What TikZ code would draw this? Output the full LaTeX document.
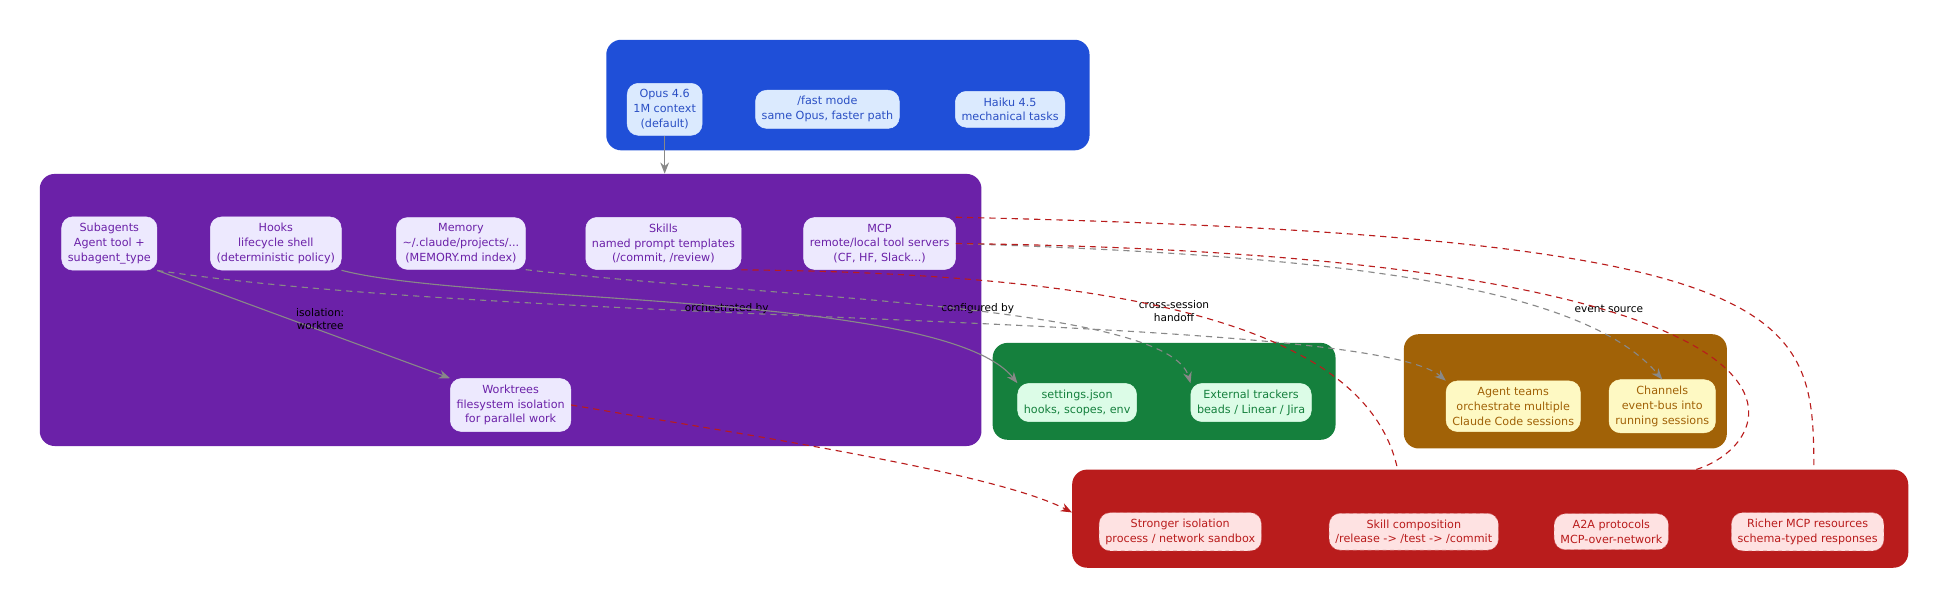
\documentclass[tikz,border=0pt]{standalone}
\usepackage{fontspec}
\setmainfont{DejaVu Sans}
\usetikzlibrary{arrows.meta}
\definecolor{bluec}{HTML}{1F4FD8}
\definecolor{bluef}{HTML}{DBEAFE}
\definecolor{bluet}{HTML}{2A4FC4}
\definecolor{purc}{HTML}{6B21A8}
\definecolor{purf}{HTML}{EDE9FE}
\definecolor{grnc}{HTML}{15803D}
\definecolor{grnf}{HTML}{DCFCE7}
\definecolor{brnc}{HTML}{A16207}
\definecolor{brnf}{HTML}{FEF9C3}
\definecolor{redc}{HTML}{B91C1C}
\definecolor{redf}{HTML}{FEE2E2}
\definecolor{edgec}{HTML}{888888}
\tikzset{cluster/.style={draw=none, rounded corners=12pt, inner sep=0pt},
         box/.style={rounded corners=9pt, align=center, inner sep=5pt,
                     font=\fontsize{9}{12}\selectfont},
         mbox/.style={box, fill=bluef, draw=bluef, text=bluet},
         pbox/.style={box, fill=purf, draw=purf, text=purc},
         gbox/.style={box, fill=grnf, draw=grnf, text=grnc},
         ybox/.style={box, fill=brnf, draw=brnf, text=brnc},
         rbox/.style={box, fill=redf, draw=redc!60, dashed, text=redc},
         link/.style={edgec, line width=0.9pt, -{Stealth[length=9pt,width=7pt]}},
         dlink/.style={link, dash pattern=on 5pt off 4pt},
         rlink/.style={redc, line width=0.9pt, dash pattern=on 5pt off 4pt},
         lbl/.style={font=\fontsize{8.5}{10.5}\selectfont, align=center, text=black}}
\begin{document}
\begin{tikzpicture}[x=1pt, y=-1pt]
    \useasboundingbox (0,0) rectangle (1568,489);

    % clusters
    \node[cluster, fill=bluec, minimum width=389pt, minimum height=89pt] (cmodels) at (682.5,76.5) {};
    \node[cluster, fill=purc, minimum width=758pt, minimum height=219pt] (cext) at (411,249.5) {};
    \node[cluster, fill=grnc, minimum width=276pt, minimum height=78pt] (cconf) at (937,315) {};
    \node[cluster, fill=brnc, minimum width=260pt, minimum height=92pt] (cmulti) at (1260,315) {};
    \node[cluster, fill=redc, minimum width=673pt, minimum height=79pt] (cfuture) at (1199.5,417.5) {};

    % models
    \node[mbox] (opus) at (535,88) {Opus 4.6\\1M context\\(default)};
    \node[mbox] (fast) at (666,88) {/fast mode\\same Opus, faster path};
    \node[mbox] (haiku) at (813,88) {Haiku 4.5\\mechanical tasks};

    % extension points
    \node[pbox] (subagents) at (88,196) {Subagents\\Agent tool +\\subagent\_type};
    \node[pbox] (hooks) at (222,196) {Hooks\\lifecycle shell\\(deterministic policy)};
    \node[pbox] (memory) at (371,196) {Memory\\\textasciitilde/.claude/projects/...\\(MEMORY.md index)};
    \node[pbox] (skills) at (534,196) {Skills\\named prompt templates\\(/commit, /review)};
    \node[pbox] (mcp) at (708,196) {MCP\\remote/local tool servers\\(CF, HF, Slack...)};
    \node[pbox] (worktrees) at (411,326) {Worktrees\\filesystem isolation\\for parallel work};

    % config
    \node[gbox] (settings) at (867,324) {settings.json\\hooks, scopes, env};
    \node[gbox] (trackers) at (1007,324) {External trackers\\beads / Linear / Jira};

    % multi-session
    \node[ybox] (teams) at (1218,327) {Agent teams\\orchestrate multiple\\Claude Code sessions};
    \node[ybox] (channels) at (1338,327) {Channels\\event-bus into\\running sessions};

    % future
    \node[rbox] (isolation) at (950,428) {Stronger isolation\\process / network sandbox};
    \node[rbox] (skillcomp) at (1138,428) {Skill composition\\/release -> /test -> /commit};
    \node[rbox] (atoa) at (1297,428) {A2A protocols\\MCP-over-network};
    \node[rbox] (richer) at (1455,428) {Richer MCP resources\\schema-typed responses};

    % edges
    \draw[link] (opus.south) -- (opus.south |- cext.north);
    \draw[link] (subagents.south east) -- node[lbl, pos=0.45, right=2pt] {isolation:\\worktree} (worktrees.north west);
    \draw[dlink] (subagents.south east) .. controls (420,262) and (1100,252) .. (teams.north west);
    \node[lbl] (lorch) at (585,248) {orchestrated by};
    \draw[link] (hooks.south east) .. controls (380,245) and (760,235) .. (settings.north west);
    \node[lbl] (lconf) at (787,248) {configured by};
    \draw[dlink] (memory.south east) .. controls (620,240) and (940,245) .. (trackers.north west);
    \node[lbl] (lhand) at (945,250) {cross-session\\handoff};
    \draw[dlink] (mcp.east) .. controls (1050,205) and (1270,225) .. (channels.north);
    \node[lbl] (levent) at (1295,249) {event source};
    \draw[rlink, -{Stealth[length=9pt,width=7pt]}] (worktrees.east) .. controls (600,350) and (800,380) .. (cfuture.west |- isolation.north);
    \draw[rlink] (skills.south east) .. controls (900,220) and (1100,260) .. (1125,378);
    \draw[rlink] (mcp.east) .. controls (1500,205) and (1440,355) .. (1365,378);
    \draw[rlink] (mcp.north east) .. controls (1450,190) and (1460,250) .. (1460,378);
\end{tikzpicture}
\end{document}
